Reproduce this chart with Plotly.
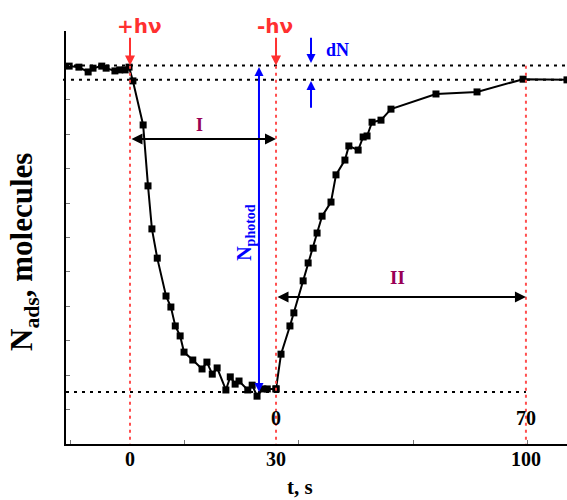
import plotly.graph_objects as go

# Adsorbed amount vs time: light on at t = 0, off at t = 30 s
T = [-12.5, -10.5, -8.6, -7.6, -5.8, -4.9, -3.1, -2.1, -1.0, -0.2,
     0.6, 2.7, 3.7, 4.5, 5.6, 7.4, 8.4, 9.3, 10.3, 11.1,
     12.9, 14.8, 15.8, 16.9, 17.9, 19.7, 20.6, 21.6, 22.4, 24.2,
     25.1, 26.1, 27.3, 28.2, 30.0,
     31.4, 33.9, 35.0, 37.6, 39.0, 40.4, 41.5, 42.9, 45.4, 46.8,
     49.3, 50.4, 53.0, 54.4, 55.5, 56.9, 59.4, 62.2, 74.8, 86.3,
     99.2, 111.5]
N = [10.98, 10.95, 10.81, 10.92, 10.98, 10.92, 10.84, 10.87, 10.87, 10.95,
     10.55, 9.27, 7.50, 6.25, 5.40, 4.30, 3.98, 3.43, 3.14, 2.67,
     2.44, 2.18, 2.38, 2.03, 2.21, 1.57, 1.95, 1.74, 1.83, 1.57,
     1.71, 1.39, 1.60, 1.60, 1.60,
     2.61, 3.43, 3.81, 4.74, 5.26, 5.69, 6.13, 6.62, 7.03, 7.82,
     8.25, 8.66, 8.54, 8.92, 8.95, 9.35, 9.41, 9.73, 10.17, 10.23,
     10.60, 10.58]

T_ON, T_OFF, T_END = 0, 30, 100          # light on / light off / recovered
N_INIT, N_FINAL, N_MIN = 11.0, 10.58, 1.51  # reference levels
BOTTOM_LABELS = ["0", "30", "100"]
DARK_LABELS = ["0", "70"]

# the illumination part and the dark part use separate linear time scales
X1_RANGE = [-13.15, T_OFF]
X2_RANGE = [T_OFF, 111.5]
SPLIT = 0.4192

RED = "#ff3030"
RED_DOT = "rgba(255,70,70,0.95)"
BLUE = "#0000ff"
PURPLE = "#990055"
SERIF = "Liberation Serif"

t1 = [t for t in T if t <= T_OFF]
n1 = [n for t, n in zip(T, N) if t <= T_OFF]
t2 = [t for t in T if t >= T_OFF]
n2 = [n for t, n in zip(T, N) if t >= T_OFF]

line_style = dict(color="black", width=2)
marker_style = dict(symbol="square", size=7, color="black")

fig = go.Figure()
fig.add_trace(go.Scatter(x=t1, y=n1, mode="lines+markers", line=line_style,
                         marker=marker_style, xaxis="x", yaxis="y",
                         cliponaxis=False, hoverinfo="skip"))
fig.add_trace(go.Scatter(x=t2, y=n2, mode="lines+markers", line=line_style,
                         marker=marker_style, xaxis="x2", yaxis="y",
                         cliponaxis=False, hoverinfo="skip"))
# carrier for the evenly spaced tick marks along the time axis
fig.add_trace(go.Scatter(x=[], y=[], xaxis="x3", yaxis="y", hoverinfo="skip"))

dotted = dict(color="black", width=2, dash="3px,5px")
red_dotted = dict(color=RED_DOT, width=2, dash="3px,4px")


def vline(xref, x):
    return dict(type="line", xref=xref, yref="y", x0=x, x1=x, y0=-0.08, y1=N_INIT,
                line=red_dotted)


shapes = [
    dict(type="line", xref="paper", yref="y", x0=0, x1=1, y0=N_INIT, y1=N_INIT, line=dotted),
    dict(type="line", xref="paper", yref="y", x0=-0.006, x1=1, y0=N_FINAL, y1=N_FINAL, line=dotted),
    dict(type="line", xref="x", yref="y", x0=X1_RANGE[0], x1=T_OFF, y0=N_MIN, y1=N_MIN, line=dotted),
    dict(type="line", xref="x2", yref="y", x0=T_OFF, x1=T_END, y0=N_MIN, y1=N_MIN, line=dotted),
    vline("x", T_ON),
    # light-off line sits on the border of both time scales: draw it on each
    vline("x", T_OFF),
    vline("x2", T_OFF),
    vline("x2", T_END),
]


def arrow(xref, x, y, ax, ay, color, both=False, size=1.0, width=2):
    return dict(xref=xref, yref="y", axref=xref, ayref="y", x=x, y=y, ax=ax, ay=ay,
                text="", showarrow=True, arrowhead=2, arrowsize=size, arrowwidth=width,
                arrowcolor=color, arrowside="end+start" if both else "end",
                startarrowhead=2, startarrowsize=size, standoff=0, startstandoff=0)


def label(text, xref, x, y, size, color="black", yref="y", family=SERIF, angle=0):
    return dict(text=text, xref=xref, yref=yref, x=x, y=y, showarrow=False,
                textangle=angle, xanchor="center", yanchor="middle",
                font=dict(family=family, size=size, color=color, weight="bold"))


annotations = [
    arrow("x", T_ON, N_INIT, T_ON, 11.85, RED),
    arrow("x", T_OFF, N_INIT, T_OFF, 11.85, RED),
    arrow("x2", 39.8, 11.07, 39.8, 11.85, BLUE, size=0.9),
    arrow("x2", 39.8, 10.55, 39.8, 9.73, BLUE, size=0.9),
    arrow("x", 26.5, N_MIN, 26.5, N_INIT, BLUE, both=True, size=0.9),
    arrow("x", T_OFF, 8.86, T_ON, 8.86, "black", both=True, size=1.1),
    arrow("x2", T_END, 4.27, T_OFF, 4.27, "black", both=True, size=1.1),
    label("+hν", "x", 2.0, 1.011, 20, RED, yref="paper", family="DejaVu Sans"),
    label("-hν", "x", 29.8, 1.011, 20, RED, yref="paper", family="DejaVu Sans"),
    label("dN", "x2", 47.2, 11.45, 18, BLUE),
    label("I", "x", 14.2, 9.27, 18, PURPLE),
    label("II", "x2", 63.9, 4.85, 19, PURPLE),
    label("N<sub>photod</sub>", "x", 23.8, 6.16, 20, BLUE, angle=-90),
    label(DARK_LABELS[0], "x2", T_OFF, 0.755, 20),
    label(DARK_LABELS[1], "x2", T_END, 0.755, 20),
    label(BOTTOM_LABELS[0], "x", T_ON, -0.036, 20, yref="paper"),
    label(BOTTOM_LABELS[1], "x", T_OFF, -0.036, 20, yref="paper"),
    label(BOTTOM_LABELS[2], "x2", T_END, -0.036, 20, yref="paper"),
    label("t, s", "paper", 0.467, -0.105, 21, yref="paper"),
    label("N<sub>ads</sub>, molecules", "paper", -0.0838, 0.465, 31, yref="paper", angle=-90),
]

x_common = dict(showline=True, linecolor="black", linewidth=2, showgrid=False,
                zeroline=False, showticklabels=False, ticks="", anchor="y")

fig.update_layout(
    width=567, height=500,
    margin=dict(l=66, r=0, t=31, b=56),
    paper_bgcolor="white", plot_bgcolor="rgba(0,0,0,0)",
    showlegend=False,
    xaxis=dict(domain=[0, SPLIT], range=X1_RANGE, **x_common),
    xaxis2=dict(domain=[SPLIT, 1], range=X2_RANGE, **x_common),
    xaxis3=dict(domain=[0, 1], range=[-0.035, 4.341], anchor="y", showline=False,
                showgrid=False, zeroline=False, showticklabels=False,
                ticks="inside", ticklen=4, tickwidth=1, tickcolor="#777",
                tick0=0, dtick=1),
    yaxis=dict(range=[0, 12], showline=True, linecolor="black", linewidth=2,
               showgrid=False, zeroline=False, showticklabels=False,
               ticks="inside", ticklen=4, tickwidth=1, tickcolor="#777",
               tick0=0, dtick=1),
    shapes=shapes,
    annotations=annotations,
)

fig.write_html("out.html")
